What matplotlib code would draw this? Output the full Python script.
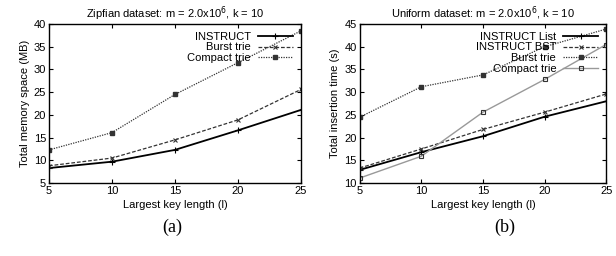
import matplotlib
matplotlib.use('Agg')
import matplotlib.pyplot as plt

plt.rcParams['font.family'] = ['Liberation Sans', 'DejaVu Sans']

keylen = [5, 10, 15, 20, 25]

# (a) Zipfian: memory space (MB)
mem_instruct = [8.3, 9.7, 12.3, 16.6, 21.1]
mem_burst = [8.8, 10.5, 14.5, 18.9, 25.6]
mem_compact = [12.3, 16.1, 24.5, 31.5, 38.5]

# (b) Uniform: insertion time (s)
t_list = [12.9, 16.8, 20.3, 24.6, 28.0]
t_bst = [13.3, 17.5, 21.8, 25.6, 29.6]
t_burst = [24.5, 31.2, 33.8, 40.0, 43.9]
t_compact = [11.1, 15.9, 25.6, 32.8, 40.5]


def style_axes(ax):
    ax.tick_params(direction='in', top=True, right=True, labelsize=8, length=3, pad=2)
    for s in ax.spines.values():
        s.set_linewidth(1.0)
    ax.set_xlim(5, 25)
    ax.set_xticks(keylen)
    ax.set_xlabel('Largest key length (l)', fontsize=8, labelpad=3)


fig = plt.figure(figsize=(6.16, 2.56), dpi=100)
ax1 = fig.add_axes([0.0795, 0.285, 0.409, 0.621])
ax2 = fig.add_axes([0.584, 0.285, 0.400, 0.621])

# panel a
ax1.plot(keylen, mem_instruct, color='black', lw=1.3, marker='+', ms=4, mew=0.8, label='INSTRUCT')
ax1.plot(keylen, mem_burst, color='#333333', lw=0.9, ls=(0, (3, 1.5)), marker='x', ms=3, mew=0.8, label='Burst trie')
ax1.plot(keylen, mem_compact, color='#333333', lw=0.9, ls=(0, (1, 1)), marker='s', ms=2.5, label='Compact trie')
ax1.set_ylim(5, 40)
ax1.set_yticks(range(5, 41, 5))
ax1.set_ylabel('Total memory space (MB)', fontsize=8, labelpad=3)
ax1.set_title('Zipfian dataset: m = 2.0x10$^6$, k = 10', fontsize=8, pad=5)
style_axes(ax1)
ax1.legend(loc='upper right', frameon=False, markerfirst=False, fontsize=8,
           handlelength=3.2, handletextpad=0.6, labelspacing=0.05, borderaxespad=0.3)

# panel b
ax2.plot(keylen, t_list, color='black', lw=1.3, marker='+', ms=4, mew=0.8, label='INSTRUCT List')
ax2.plot(keylen, t_bst, color='#333333', lw=0.9, ls=(0, (3, 1.5)), marker='x', ms=3, mew=0.8, label='INSTRUCT BST')
ax2.plot(keylen, t_burst, color='#333333', lw=0.9, ls=(0, (1, 1)), marker='s', ms=2.5, label='Burst trie')
ax2.plot(keylen, t_compact, color='#999999', lw=1.0, marker='s', ms=3.5, mfc='none', mec='#333333', mew=0.8, label='Compact trie')
ax2.set_ylim(10, 45)
ax2.set_yticks(range(10, 46, 5))
ax2.set_ylabel('Total insertion time (s)', fontsize=8, labelpad=3)
ax2.set_title('Uniform dataset: m = 2.0x10$^6$, k = 10', fontsize=8, pad=5)
style_axes(ax2)
ax2.legend(loc='upper right', frameon=False, markerfirst=False, fontsize=8,
           handlelength=3.2, handletextpad=0.6, labelspacing=0.05, borderaxespad=0.3)

fig.text(0.28, 0.11, '(a)', fontsize=13, family='Liberation Serif', ha='center', va='center')
fig.text(0.82, 0.11, '(b)', fontsize=13, family='Liberation Serif', ha='center', va='center')

fig.savefig('out.png', dpi=100)
